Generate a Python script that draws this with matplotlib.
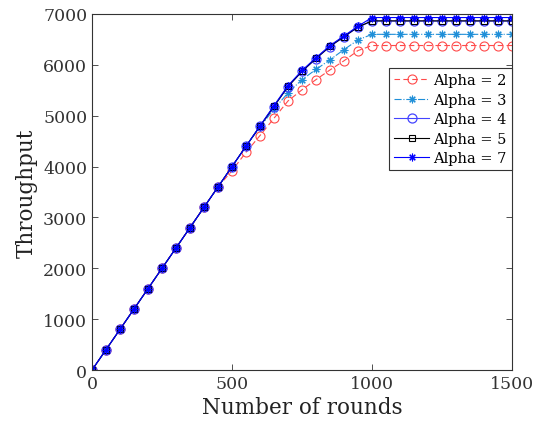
import matplotlib
matplotlib.use("Agg")
import matplotlib.pyplot as plt
import numpy as np

rounds = list(range(0, 1501, 50))
ramp = [0, 400, 800, 1200, 1600, 2000, 2400, 2800, 3200, 3600]
alpha2 = ramp + [3920, 4280, 4610, 4950, 5290, 5510, 5710, 5900, 6080, 6280, 6380] + [6380] * 10
alpha3 = ramp + [4000, 4400, 4780, 5130, 5450, 5710, 5910, 6100, 6300, 6490, 6600] + [6600] * 10
alpha4 = ramp + [4000, 4400, 4790, 5180, 5570, 5870, 6120, 6360, 6550, 6740, 6860] + [6860] * 10
alpha5 = ramp + [4000, 4400, 4795, 5185, 5575, 5875, 6125, 6365, 6555, 6745, 6865] + [6865] * 10
alpha7 = ramp + [4000, 4400, 4800, 5200, 5590, 5890, 6140, 6380, 6570, 6760, 6930] + [6930] * 10

plt.rcParams['font.family'] = ['DejaVu Serif']
fig = plt.figure(figsize=(5.34, 4.27), dpi=100)
ax = fig.add_axes([0.1723, 0.1311, 0.7865, 0.8338])

ast = (8, 2, 0)
ax.plot(rounds, alpha2, '--', marker='o', color='#ff4a4a', lw=0.8, ms=6.5, mfc='none', mew=0.8, label='Alpha = 2', dashes=(5, 3))
ax.plot(rounds, alpha3, '-.', marker=ast, color='#1f8fd8', lw=0.8, ms=5.5, mew=0.8, label='Alpha = 3')
ax.plot(rounds, alpha4, '-', marker='o', color='#4444ff', lw=0.8, ms=6.5, mfc='none', mew=0.9, label='Alpha = 4')
ax.plot(rounds, alpha5, '-', marker='s', color='black', lw=0.8, ms=4, mfc='none', mew=0.8, label='Alpha = 5')
ax.plot(rounds, alpha7, '-', marker=ast, color='#0000ff', lw=0.8, ms=5.5, mew=0.8, label='Alpha = 7')

ax.set_xlim(0, 1500)
ax.set_ylim(0, 7000)
ax.set_xticks([0, 500, 1000, 1500])
ax.set_yticks(range(0, 7001, 1000))
ax.tick_params(direction='in', top=True, right=True, labelsize=12.5, colors='#333333', length=4, width=0.6)
for s in ax.spines.values():
    s.set_linewidth(0.8)
    s.set_color('#333333')
ax.set_xlabel('Number of rounds', fontsize=15.5, color='#222222', labelpad=3)
ax.set_ylabel('Throughput', fontsize=15.5, color='#222222', labelpad=4)

leg = ax.legend(loc='upper right', bbox_to_anchor=(1.0, 0.848), fontsize=10.5, fancybox=False,
                edgecolor='#333333', framealpha=1, borderpad=0.35, labelspacing=0.38,
                handlelength=2.4, handletextpad=0.3, borderaxespad=0)
leg.get_frame().set_linewidth(0.8)

fig.savefig('out.png', dpi=100)
